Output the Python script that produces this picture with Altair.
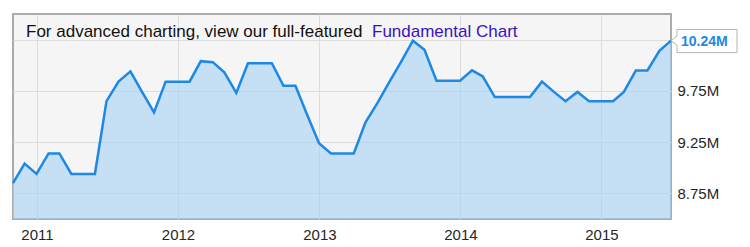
import altair as alt
import pandas as pd

# Monthly values (millions), end of month, Oct 2010 .. Jun 2015
values_m = [8.85, 9.04, 8.94, 9.14, 9.14, 8.94, 8.94, 8.94, 9.65, 9.84,
            9.94, 9.74, 9.54, 9.84, 9.84, 9.84, 10.04, 10.03, 9.93, 9.73,
            10.02, 10.02, 10.02, 9.80, 9.80, 9.52, 9.24, 9.14, 9.14, 9.14,
            9.44, 9.63, 9.83, 10.03, 10.24, 10.15, 9.85, 9.85, 9.85, 9.95,
            9.89, 9.69, 9.69, 9.69, 9.69, 9.84, 9.74, 9.65, 9.74, 9.65,
            9.65, 9.65, 9.74, 9.95, 9.95, 10.14, 10.24]
first_month_after = "2010-11-01"
year_ticks = [2011, 2012, 2013, 2014, 2015]
y_ticks = [8.75, 9.25, 9.75, 10.25]
y_domain = [8.5, 10.5]
note_text = "For advanced charting, view our full-featured "
link_text = "Fundamental Chart"
last_label = "10.24M"

dates = pd.date_range(first_month_after, periods=len(values_m), freq="MS") - pd.Timedelta(days=1)
df = pd.DataFrame({"date": dates, "value": values_m})
last_df = df.tail(1).assign(label=last_label)

W, H = 658, 205
FONT = "Liberation Sans"
BLUE = "#1e88e5"
LABEL = "#262626"

x_enc = alt.X(
    "date:T",
    scale=alt.Scale(nice=False),
    axis=alt.Axis(
        values=[alt.DateTime(year=y, month=1, date=1) for y in year_ticks],
        format="%Y", title=None, grid=True, gridColor="#dcdcdc",
        ticks=False, domain=False, labelFontSize=15, labelColor=LABEL,
        labelFont=FONT, labelPadding=8,
    ),
)
y_enc = alt.Y(
    "value:Q",
    scale=alt.Scale(domain=y_domain, zero=False, nice=False),
    axis=alt.Axis(
        orient="right", values=y_ticks, title=None, grid=True,
        gridColor="#dcdcdc", ticks=False, domain=False,
        labelExpr="datum.value > 10 ? '' : format(datum.value, '.2f') + 'M'",
        labelFontSize=15, labelColor=LABEL, labelFont=FONT,
        labelPadding=6,
    ),
)

area = alt.Chart(df).mark_area(color="#a5d0f3", opacity=0.6, clip=True).encode(x=x_enc, y=y_enc)
line = alt.Chart(df).mark_line(color=BLUE, strokeWidth=2.5).encode(x=x_enc, y=y_enc)

callout_path = "M0,0 L0.2,-0.15 L0.2,-0.37 L2.2,-0.37 L2.2,0.4 L0.2,0.4 L0.2,0.15 Z"
box = alt.Chart(last_df).mark_point(
    shape=callout_path, size=3600, filled=True, fill="white",
    stroke="#b4b4b4", strokeWidth=1, opacity=1,
).encode(x=x_enc, y=y_enc)
box_text = alt.Chart(last_df).mark_text(
    align="left", baseline="middle", dx=10, dy=1, fontSize=14,
    fontWeight="bold", color=BLUE, font=FONT,
).encode(x=x_enc, y=y_enc, text="label:N")

note = alt.Chart(pd.DataFrame({"t": [note_text]})).mark_text(
    align="left", baseline="alphabetic", fontSize=17, color="#111111", font=FONT,
).encode(x=alt.value(13), y=alt.value(22.5), text="t:N")
link = alt.Chart(pd.DataFrame({"t": [link_text]})).mark_text(
    align="left", baseline="alphabetic", fontSize=17, color="#3a10c8", font=FONT,
).encode(x=alt.value(359), y=alt.value(22.5), text="t:N")

chart = alt.layer(area, line, note, link, box, box_text).properties(
    width=W, height=H,
    padding={"left": 13, "top": 14, "right": 79, "bottom": 28},
    autosize=alt.AutoSizeParams(type="none"),
    background="white",
).configure_view(
    fill="#f5f5f5", stroke="#ababab", strokeWidth=2,
)

chart.save("out.html", embed_options={"renderer": "svg", "actions": False})
